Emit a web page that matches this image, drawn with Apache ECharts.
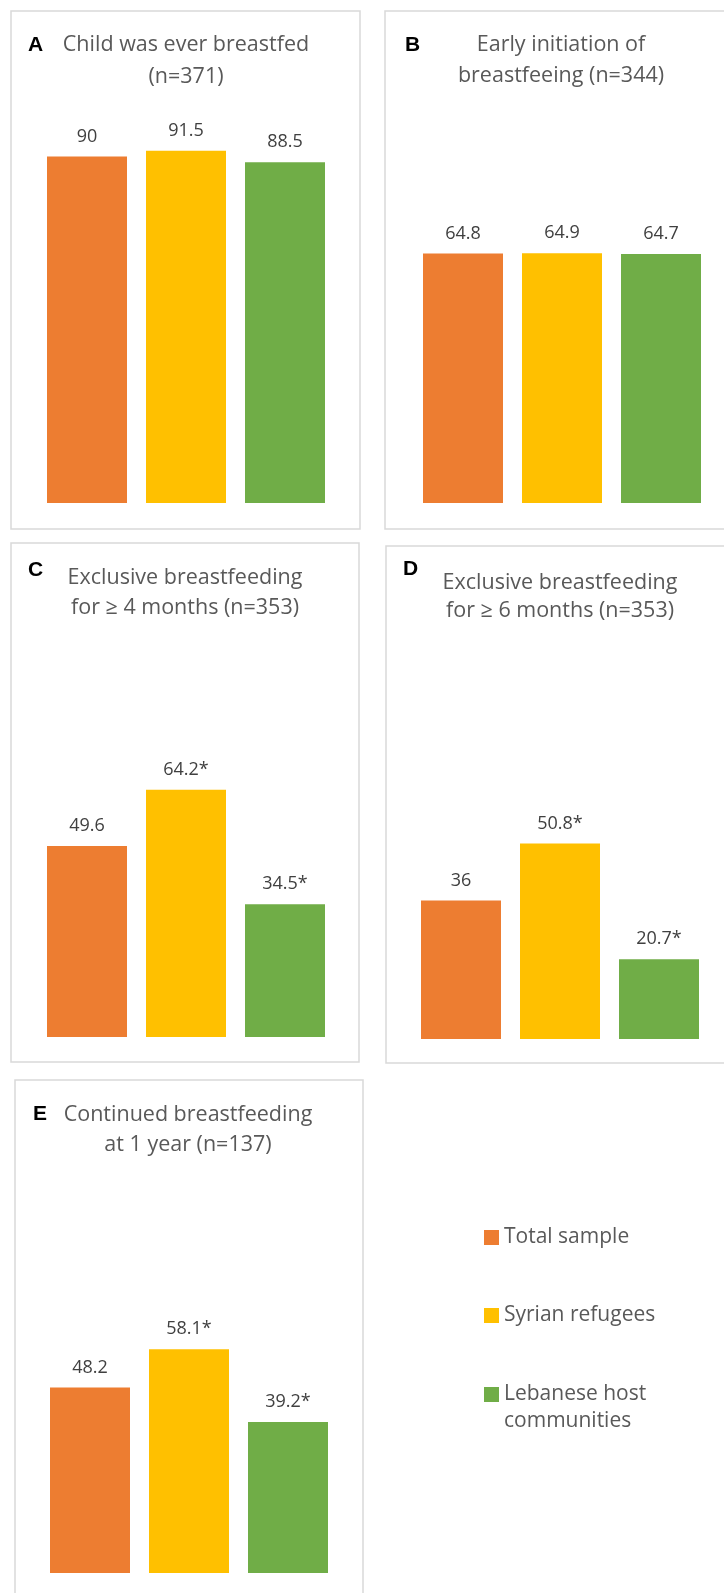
<!DOCTYPE html>
<html>
<head>
<meta charset="utf-8">
<script src="https://cdn.jsdelivr.net/npm/echarts@6/dist/echarts.min.js"></script>
<style>
html,body{margin:0;padding:0;background:#fff;}
#chart{width:724px;height:1593px;}
</style>
</head>
<body>
<div id="chart"></div>
<script>
// ---- data ----
const groups = ['Total sample', 'Syrian refugees', 'Lebanese host\ncommunities'];
const panelLetters = ['A', 'B', 'C', 'D', 'E'];
const panelTitleLines = [
  ['Child was ever breastfed', '(n=371)'],
  ['Early initiation of', 'breastfeeing (n=344)'],
  ['Exclusive breastfeeding', 'for \u2265 4 months (n=353)'],
  ['Exclusive breastfeeding', 'for \u2265 6 months (n=353)'],
  ['Continued breastfeeding', 'at 1 year (n=137)']
];
const valuesA = [90, 91.5, 88.5];
const valuesB = [64.8, 64.9, 64.7];
const valuesC = [49.6, 64.2, 34.5];
const valuesD = [36, 50.8, 20.7];
const valuesE = [48.2, 58.1, 39.2];
const sigA = ['', '', ''];
const sigB = ['', '', ''];
const sigC = ['', '*', '*'];
const sigD = ['', '*', '*'];
const sigE = ['', '*', '*'];

// ---- layout / style ----
const panelValues = [valuesA, valuesB, valuesC, valuesD, valuesE];
const panelSig = [sigA, sigB, sigC, sigD, sigE];
const colors = ['#ED7D31', '#FFC000', '#70AD47'];
const grids = [
  {left: 37, top: 118, width: 298, height: 385},
  {left: 413, top: 118, width: 298, height: 385},
  {left: 37, top: 652, width: 298, height: 385},
  {left: 411, top: 654, width: 298, height: 385},
  {left: 40, top: 1188, width: 298, height: 385}
];
const boxes = [
  {x: 11, y: 11, width: 349, height: 518},
  {x: 385, y: 11, width: 360, height: 518},
  {x: 11, y: 543, width: 348, height: 519},
  {x: 386, y: 546, width: 360, height: 517},
  {x: 15, y: 1080, width: 348, height: 540}
];
const titlePos = [
  {cx: 186, y1: 45, y2: 77, lx: 28, ly: 45},
  {cx: 561, y1: 45, y2: 76, lx: 405, ly: 45},
  {cx: 185, y1: 578, y2: 608, lx: 28, ly: 570},
  {cx: 560, y1: 583, y2: 611, lx: 403, ly: 569},
  {cx: 188, y1: 1115, y2: 1145, lx: 33, ly: 1114}
];
const FONT = '"Open Sans", "Noto Sans", sans-serif';

const chart = echarts.init(document.getElementById('chart'), null, {renderer: 'canvas'});

const xAxes = [], yAxes = [], series = [], graphics = [];
grids.forEach((g, gi) => {
  xAxes.push({type: 'category', gridIndex: gi, data: [''], show: false});
  yAxes.push({type: 'value', gridIndex: gi, min: 0, max: 100, show: false});
  groups.forEach((name, si) => {
    series.push({
      type: 'bar',
      name: name,
      xAxisIndex: gi,
      yAxisIndex: gi,
      data: [panelValues[gi][si]],
      barWidth: 80,
      barGap: '23.75%',
      silent: true,
      itemStyle: {color: colors[si]},
      label: {
        show: true,
        position: 'top',
        distance: 11,
        color: '#404040',
        fontSize: 18,
        fontFamily: FONT,
        formatter: (p) => p.value + panelSig[gi][si]
      }
    });
  });
});

boxes.forEach(b => {
  graphics.push({
    type: 'rect', silent: true,
    shape: {x: b.x, y: b.y, width: b.width, height: b.height},
    style: {fill: 'none', stroke: '#d9d9d9', lineWidth: 1.5}
  });
});
titlePos.forEach((t, i) => {
  graphics.push({
    type: 'text', silent: true, x: t.lx, y: t.ly,
    style: {text: panelLetters[i], fill: '#000', font: 'bold 21px "Liberation Sans", Arial, sans-serif',
            align: 'left', verticalAlign: 'middle', textAlign: 'left', textVerticalAlign: 'middle'}
  });
  [t.y1, t.y2].forEach((yy, li) => {
    graphics.push({
      type: 'text', silent: true, x: t.cx, y: yy,
      style: {text: panelTitleLines[i][li], fill: '#595959', font: '21.5px ' + FONT,
              align: 'center', verticalAlign: 'middle', textAlign: 'center', textVerticalAlign: 'middle'}
    });
  });
});

const legendBase = {
  orient: 'vertical', left: 484, padding: 0, itemWidth: 15, itemHeight: 15,
  icon: 'rect', selectedMode: false,
  textStyle: {color: '#595959', fontSize: 21, fontFamily: FONT, lineHeight: 27}
};
const legends = [
  Object.assign({}, legendBase, {top: 1224, data: [groups[0]]}),
  Object.assign({}, legendBase, {top: 1302, data: [groups[1]]}),
  Object.assign({}, legendBase, {top: 1354, data: [groups[2]], formatter: (n) => '\n' + n})
];

chart.setOption({
  animation: false,
  grid: grids,
  xAxis: xAxes,
  yAxis: yAxes,
  legend: legends,
  series: series,
  graphic: graphics
});
</script>
</body>
</html>
